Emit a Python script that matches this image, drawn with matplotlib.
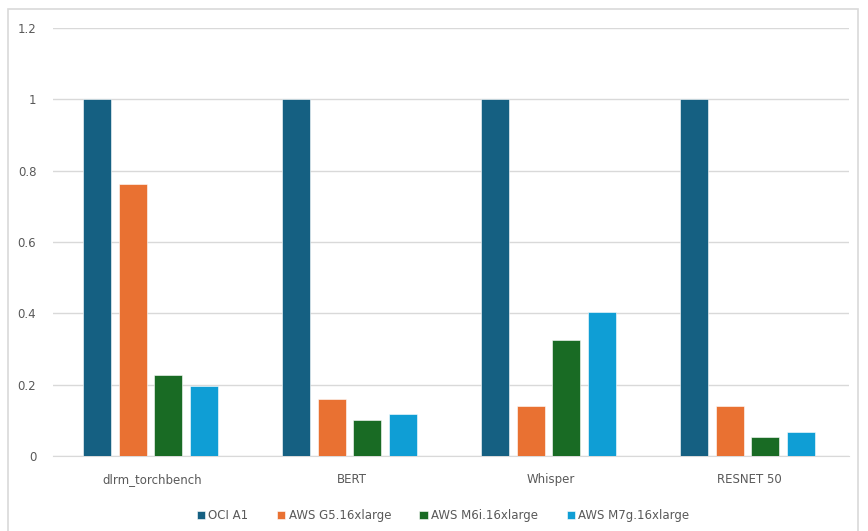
import matplotlib.pyplot as plt
import numpy as np
from matplotlib.patches import Rectangle

categories = ["dlrm_torchbench", "BERT", "Whisper", "RESNET 50"]
series = ["OCI A1", "AWS G5.16xlarge", "AWS M6i.16xlarge", "AWS M7g.16xlarge"]
oci_a1 = [1.0, 1.0, 1.0, 1.0]
aws_g5 = [0.764, 0.160, 0.140, 0.140]
aws_m6i = [0.228, 0.101, 0.326, 0.053]
aws_m7g = [0.197, 0.118, 0.404, 0.067]
colors = ["#156082", "#E97132", "#196B24", "#0F9ED5"]

fig = plt.figure(figsize=(8.68, 5.31), dpi=100)
ax = fig.add_axes([53 / 868, 1 - 456 / 531, 796 / 868, 428 / 531])

# light chart border like the Excel chart area
fig.patches.append(Rectangle((8 / 868, -0.01), 858 / 868 - 8 / 868, 1 - 9 / 531 + 0.01,
                             transform=fig.transFigure, fill=False,
                             edgecolor="#D9D9D9", linewidth=1.2))

x = np.arange(len(categories))
width = 0.141
step = 0.18
for i, (name, vals) in enumerate(zip(series, [oci_a1, aws_g5, aws_m6i, aws_m7g])):
    ax.bar(x + (i - 1.5) * step - 0.01, vals, width, color=colors[i], label=name,
           edgecolor="white", linewidth=0.4, zorder=3)

ax.set_xlim(-0.5, len(categories) - 0.5)
ax.set_ylim(0, 1.2)
ax.set_yticks([0, 0.2, 0.4, 0.6, 0.8, 1, 1.2])
ax.set_yticklabels(["0", "0.2", "0.4", "0.6", "0.8", "1", "1.2"])
ax.set_xticks(x)
ax.set_xticklabels(categories)
ax.grid(axis="y", color="#D9D9D9", linewidth=1.0, zorder=0)
for s in ["top", "right", "left"]:
    ax.spines[s].set_visible(False)
ax.spines["bottom"].set_color("#D9D9D9")
ax.tick_params(axis="both", length=0, labelsize=8.5, labelcolor="#595959")
ax.tick_params(axis="x", pad=12)
ax.tick_params(axis="y", pad=12)

ax.legend(loc="upper center", bbox_to_anchor=(0.49, -0.1), ncol=4, frameon=False,
          fontsize=8.5, labelcolor="#595959", handlelength=0.7, handleheight=0.7,
          handletextpad=0.3, columnspacing=2.4)

fig.savefig("out.png", dpi=100)
